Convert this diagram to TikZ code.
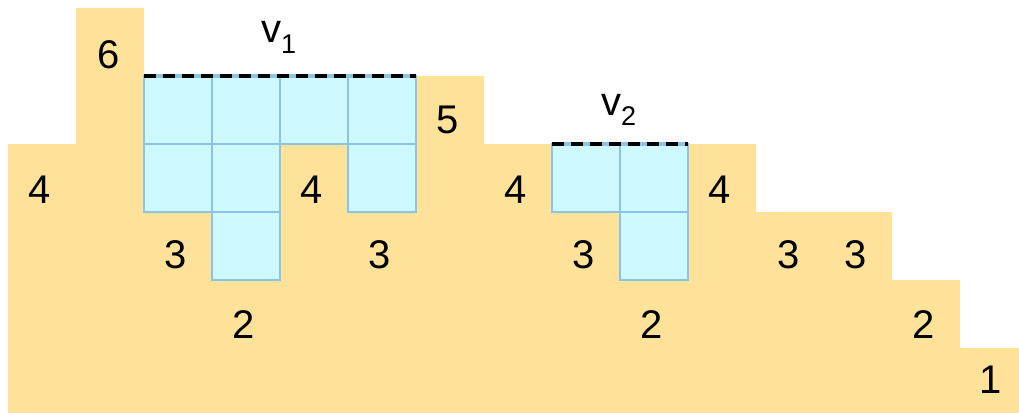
\documentclass[tikz,border=0pt]{standalone}
\usepackage{fontspec}
\setmainfont{Liberation Sans}
\definecolor{orangefill}{RGB}{254,226,154}
\definecolor{cellblue}{RGB}{206,250,255}
\definecolor{lineblue}{RGB}{140,196,232}
\begin{document}
\begin{tikzpicture}[x=1pt,y=-1pt,
  lab/.style={anchor=base,inner sep=0pt,font=\fontsize{40}{40}\selectfont},
  vlab/.style={anchor=base west,inner sep=0pt,font=\fontsize{40}{40}\selectfont},
  cellbox/.style={fill=cellblue,draw=lineblue,line width=2pt},
  baseline/.style={draw=lineblue,line width=3.5pt},
  dashline/.style={draw=black,line width=3.5pt,dash pattern=on 12pt off 7pt}]
\useasboundingbox (0,0) rectangle (1019,412);
\clip (0,0) rectangle (1019,412);
% orange staircase
\fill[orangefill] (8,420) -- (8,144) -- (76,144) -- (76,8) -- (144,8) -- (144,76)
  -- (484,76) -- (484,144) -- (756,144) -- (756,212) -- (892,212) -- (892,280)
  -- (960,280) -- (960,348) -- (1030,348) -- (1030,420) -- cycle;
% blue cells v1
\foreach \x/\y in {144/76,212/76,280/76,348/76,144/144,212/144,348/144,212/212}
  \draw[cellbox] (\x,\y) rectangle ++(68,68);
% blue cells v2
\foreach \x/\y in {552/144,620/144,620/212}
  \draw[cellbox] (\x,\y) rectangle ++(68,68);
% dashed tops
\coordinate (d1a) at (144,76); \coordinate (d1b) at (416,76);
\coordinate (d2a) at (552,144); \coordinate (d2b) at (688,144);
\draw[baseline] (d1a) -- (d1b);
\draw[dashline] (d1a) -- (d1b);
\draw[baseline] (d2a) -- (d2b);
\draw[dashline] (d2a) -- (d2b);
% labels
\node[vlab] (v1) at (261,43) {v\raisebox{-10pt}{\fontsize{27}{27}\selectfont 1}};
\node[vlab] (v2) at (601,115) {v\raisebox{-10pt}{\fontsize{27}{27}\selectfont 2}};
\node[lab] (l0) at (40,203) {4};
\node[lab] (l1) at (109,68) {6};
\node[lab] (l2) at (176,268) {3};
\node[lab] (l3) at (244,338) {2};
\node[lab] (l4) at (312,203) {4};
\node[lab] (l5) at (380,268) {3};
\node[lab] (l6) at (448,133) {5};
\node[lab] (l7) at (516,203) {4};
\node[lab] (l8) at (584,268) {3};
\node[lab] (l9) at (652,338) {2};
\node[lab] (l10) at (720,203) {4};
\node[lab] (l11) at (789,268) {3};
\node[lab] (l12) at (856,268) {3};
\node[lab] (l13) at (924,338) {2};
\node[lab] (l14) at (991,393) {1};
\end{tikzpicture}
\end{document}
